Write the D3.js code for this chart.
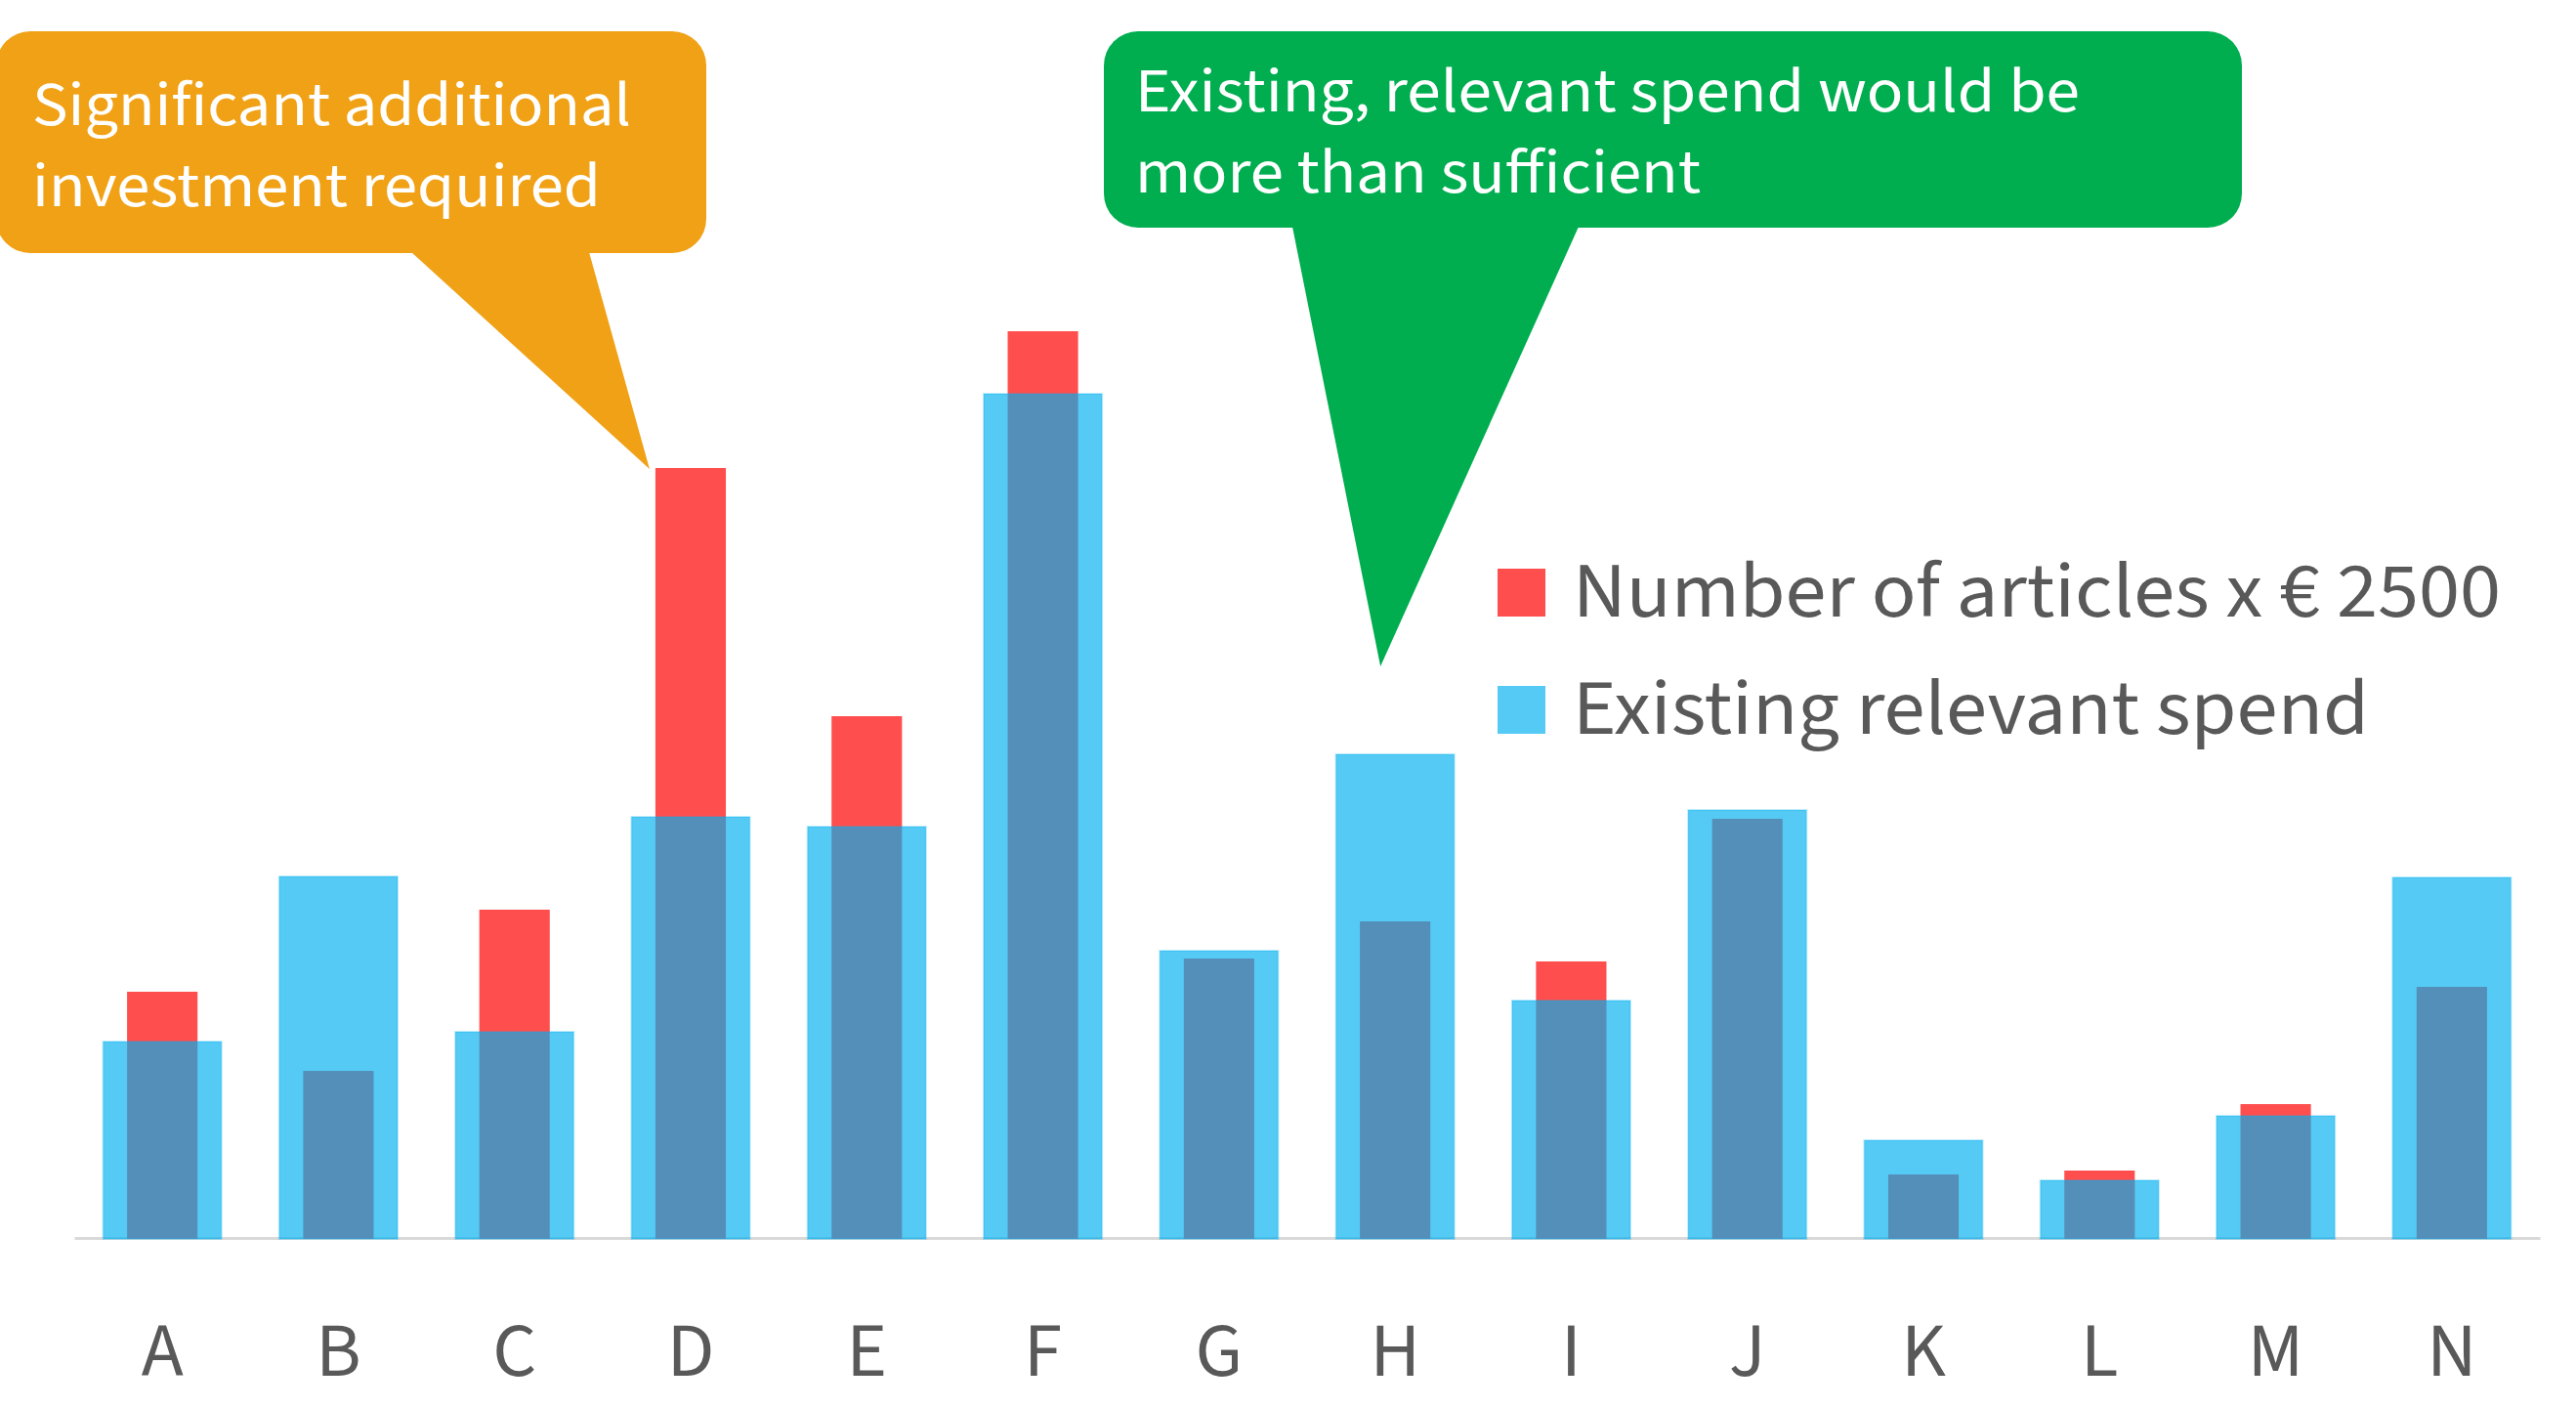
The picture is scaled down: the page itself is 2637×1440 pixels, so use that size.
<!DOCTYPE html>
<html>
<head>
<meta charset="utf-8">
<script src="https://cdn.jsdelivr.net/npm/d3@7"></script>
<style>
  html, body { margin: 0; padding: 0; background: #ffffff; }
  svg { display: block; }
</style>
</head>
<body>
<div id="chart"></div>
<script>
// Values, in thousands of euros
const categories = ['A', 'B', 'C', 'D', 'E', 'F', 'G', 'H', 'I', 'J', 'K', 'L', 'M', 'N'];
const articleCost = [251, 170, 335, 787, 533, 927, 285, 323, 282, 428, 64, 68, 136, 256];
const existingSpend = [200, 369, 210, 430, 420, 863, 293, 494, 242, 437, 99, 58, 124, 368];

const seriesNames = ['Number of articles x € 2500', 'Existing relevant spend'];
const warnLines = ['Significant additional', 'investment required'];
const okLines = ['Existing, relevant spend would be', 'more than sufficient'];

const width = 2637;
const height = 1440;
const fontFamily = '"Source Sans Pro", "Source Sans 3", Lato, sans-serif';
const textColor = '#595959';
const red = '#FF4E4E';
const blue = '#00B0F0';
const blueOpacity = 0.67;

const svg = d3.select('#chart')
  .append('svg')
  .attr('width', width)
  .attr('height', height)
  .style('background', '#ffffff');

const x = d3.scaleBand().domain(categories).range([76, 2600]).padding(0);
const y = d3.scaleLinear().domain([0, 1000]).range([1266, 266]);

const data = categories.map((c, i) => ({ cat: c, cost: articleCost[i], spend: existingSpend[i] }));

const wideW = x.step() * 0.672;
const narrowW = x.step() * 0.4;

// axis: grey baseline + category letters
const axis = svg.append('g')
  .attr('transform', `translate(0,${y(0) + 1})`)
  .call(d3.axisBottom(x).tickSize(0).tickSizeOuter(0));

axis.select('.domain').attr('stroke', '#D9D9D9').attr('stroke-width', 3);
axis.selectAll('.tick text')
  .attr('y', 141)
  .attr('dy', null)
  .attr('fill', textColor)
  .style('font-family', fontFamily)
  .style('font-size', '79px');

// red bars underneath
svg.append('g')
  .selectAll('rect')
  .data(data)
  .join('rect')
  .attr('x', (d) => x(d.cat) + (x.bandwidth() - narrowW) / 2)
  .attr('y', (d) => y(d.cost))
  .attr('width', narrowW)
  .attr('height', (d) => y(0) + 2 - y(d.cost))
  .attr('fill', red);

// translucent blue bars on top, red shows through as steel blue
svg.append('g')
  .selectAll('rect')
  .data(data)
  .join('rect')
  .attr('x', (d) => x(d.cat) + (x.bandwidth() - wideW) / 2)
  .attr('y', (d) => y(d.spend))
  .attr('width', wideW)
  .attr('height', (d) => y(0) + 2 - y(d.spend))
  .attr('fill', blue)
  .attr('fill-opacity', blueOpacity)
  .attr('stroke', blue)
  .attr('stroke-opacity', 0.25)
  .attr('stroke-width', 2);

// legend
const legend = svg.append('g').attr('transform', 'translate(1533,582)');
const legendItems = [
  { name: seriesNames[0], color: red, opacity: 1, width: 950 },
  { name: seriesNames[1], color: blue, opacity: blueOpacity, width: 815 },
];
legend.selectAll('rect')
  .data(legendItems)
  .join('rect')
  .attr('x', 0)
  .attr('y', (d, i) => i * 120)
  .attr('width', 49)
  .attr('height', 49)
  .attr('fill', (d) => d.color)
  .attr('fill-opacity', (d) => d.opacity);
legend.selectAll('text')
  .data(legendItems)
  .join('text')
  .attr('x', 77)
  .attr('y', (d, i) => 49 + i * 120)
  .attr('fill', textColor)
  .attr('textLength', (d) => d.width)
  .attr('lengthAdjust', 'spacingAndGlyphs')
  .style('font-family', fontFamily)
  .style('font-size', '80px')
  .text((d) => d.name);

// speech-bubble callouts
function callout(box, tip, fill, lines, text) {
  const g = svg.append('g');
  g.append('rect')
    .attr('x', box.x)
    .attr('y', box.y)
    .attr('width', box.w)
    .attr('height', box.h)
    .attr('rx', 35)
    .attr('fill', fill);
  g.append('path')
    .attr('d', d3.line()([[tip.x0, box.y + box.h - 1], [tip.x1, box.y + box.h - 1], [tip.x, tip.y]]) + 'Z')
    .attr('fill', fill);
  g.selectAll('text')
    .data(lines)
    .join('text')
    .attr('x', text.x)
    .attr('y', (d, i) => text.y + i * 83)
    .attr('fill', '#ffffff')
    .attr('textLength', (d, i) => text.widths[i])
    .attr('lengthAdjust', 'spacingAndGlyphs')
    .style('font-family', fontFamily)
    .style('font-size', '63px')
    .text((d) => d);
}

// orange one points at the top of D's red bar
const dLeft = x('D') + (x.bandwidth() - narrowW) / 2;
callout(
  { x: -4, y: 32, w: 727, h: 227 },
  { x0: 421, x1: 603, x: dLeft - 6, y: y(articleCost[3]) + 1 },
  '#F0A115',
  warnLines,
  { x: 33, y: 128, widths: [613, 582] }
);

// green one points down toward H
callout(
  { x: 1130, y: 32, w: 1165, h: 201 },
  { x0: 1323, x1: 1616, x: x('H') + x.bandwidth() / 2 - 15, y: y(existingSpend[7]) - 90 },
  '#00AE50',
  okLines,
  { x: 1162, y: 114, widths: [967, 579] }
);
</script>
</body>
</html>
